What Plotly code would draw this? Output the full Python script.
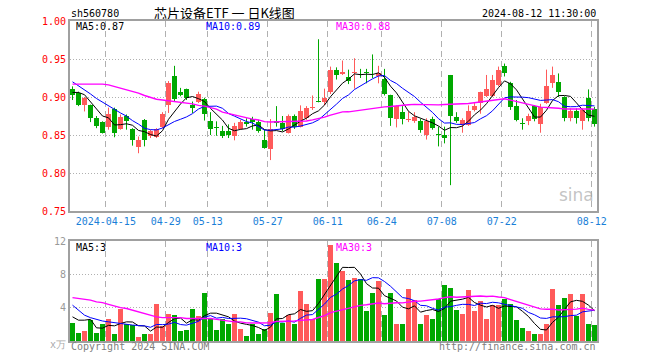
import plotly.graph_objects as go
import pandas as pd

# ---------------- data ----------------
holidays = ["2024-04-04", "2024-04-05", "2024-05-01", "2024-05-02", "2024-05-03", "2024-06-10"]
dates = [d.strftime("%Y-%m-%d") for d in pd.bdate_range("2024-04-03", "2024-08-12") if d.strftime("%Y-%m-%d") not in holidays]

opens = [0.911, 0.905, 0.889, 0.889, 0.872, 0.867, 0.861, 0.884, 0.858, 0.875,
         0.858, 0.834, 0.870, 0.849, 0.847, 0.861, 0.889, 0.927, 0.907, 0.910,
         0.889, 0.894, 0.897, 0.869, 0.860, 0.855, 0.855, 0.849, 0.858, 0.867,
         0.871, 0.867, 0.844, 0.832, 0.868, 0.866, 0.853, 0.875, 0.861, 0.872,
         0.886, 0.895, 0.893, 0.906, 0.936, 0.930, 0.926, 0.931, 0.932, 0.933,
         0.932, 0.927, 0.924, 0.903, 0.871, 0.880, 0.870, 0.869, 0.868, 0.850,
         0.871, 0.851, 0.850, 0.929, 0.874, 0.863, 0.863, 0.883, 0.892, 0.901,
         0.901, 0.916, 0.941, 0.919, 0.888, 0.866, 0.869, 0.888, 0.864, 0.892,
         0.918, 0.920, 0.900, 0.872, 0.881, 0.868, 0.899, 0.884]
highs = [0.914, 0.907, 0.900, 0.890, 0.875, 0.868, 0.886, 0.886, 0.877, 0.877,
         0.859, 0.848, 0.871, 0.857, 0.859, 0.880, 0.921, 0.941, 0.912, 0.911,
         0.894, 0.907, 0.899, 0.880, 0.868, 0.862, 0.864, 0.866, 0.870, 0.872,
         0.874, 0.870, 0.857, 0.871, 0.888, 0.875, 0.877, 0.877, 0.889, 0.888,
         0.902, 0.976, 0.911, 0.940, 0.939, 0.948, 0.936, 0.951, 0.937, 0.937,
         0.956, 0.941, 0.937, 0.903, 0.889, 0.888, 0.881, 0.880, 0.871, 0.872,
         0.874, 0.861, 0.861, 0.929, 0.880, 0.872, 0.889, 0.892, 0.907, 0.929,
         0.929, 0.940, 0.944, 0.920, 0.896, 0.872, 0.878, 0.889, 0.891, 0.936,
         0.940, 0.931, 0.901, 0.885, 0.885, 0.885, 0.910, 0.887]
lows = [0.896, 0.888, 0.881, 0.867, 0.859, 0.852, 0.857, 0.847, 0.857, 0.857,
        0.836, 0.826, 0.835, 0.846, 0.846, 0.859, 0.879, 0.894, 0.901, 0.896,
        0.879, 0.892, 0.869, 0.850, 0.849, 0.846, 0.846, 0.843, 0.857, 0.861,
        0.857, 0.853, 0.832, 0.817, 0.861, 0.855, 0.852, 0.858, 0.860, 0.870,
        0.883, 0.893, 0.889, 0.904, 0.923, 0.929, 0.917, 0.911, 0.925, 0.918,
        0.925, 0.918, 0.902, 0.862, 0.860, 0.864, 0.867, 0.866, 0.853, 0.844,
        0.857, 0.835, 0.839, 0.784, 0.866, 0.853, 0.862, 0.881, 0.878, 0.900,
        0.900, 0.914, 0.927, 0.883, 0.868, 0.857, 0.863, 0.868, 0.853, 0.891,
        0.912, 0.900, 0.868, 0.868, 0.865, 0.857, 0.868, 0.861]
closes = [0.902, 0.889, 0.899, 0.872, 0.862, 0.853, 0.877, 0.852, 0.874, 0.868,
          0.843, 0.843, 0.844, 0.855, 0.858, 0.878, 0.918, 0.897, 0.903, 0.899,
          0.886, 0.904, 0.878, 0.858, 0.859, 0.849, 0.850, 0.862, 0.867, 0.864,
          0.867, 0.855, 0.833, 0.858, 0.866, 0.858, 0.875, 0.861, 0.881, 0.886,
          0.887, 0.894, 0.899, 0.936, 0.929, 0.933, 0.921, 0.933, 0.931, 0.932,
          0.931, 0.932, 0.904, 0.872, 0.888, 0.871, 0.871, 0.874, 0.857, 0.869,
          0.859, 0.850, 0.846, 0.875, 0.868, 0.870, 0.882, 0.888, 0.906, 0.910,
          0.923, 0.935, 0.932, 0.887, 0.870, 0.865, 0.875, 0.871, 0.887, 0.915,
          0.929, 0.907, 0.872, 0.881, 0.872, 0.883, 0.873, 0.864]
volumes = [2.2, 1.0, 1.2, 2.5, 1.0, 2.0, 2.7, 0.9, 3.9, 2.0,
           1.9, 0.45, 0.8, 0.8, 4.4, 1.8, 3.3, 3.1, 1.2, 1.3,
           3.9, 3.0, 5.8, 2.7, 1.3, 2.7, 2.0, 3.3, 1.4, 0.6,
           2.0, 0.8, 1.5, 3.4, 5.6, 2.2, 3.1, 2.0, 6.0, 4.5,
           2.6, 7.4, 7.5, 11.5, 9.4, 8.4, 7.3, 7.6, 7.5, 3.6,
           5.8, 7.2, 3.1, 5.8, 2.1, 2.1, 6.2, 4.9, 2.0, 3.1,
           2.7, 5.0, 6.7, 6.4, 3.7, 3.3, 6.1, 3.6, 4.8, 2.6,
           4.3, 4.3, 5.0, 4.4, 2.5, 1.6, 1.2, 0.8, 0.9, 2.1,
           6.2, 4.3, 5.2, 5.7, 3.0, 5.6, 2.0, 1.9]

ma5_head = [0.906, 0.906, 0.903, 0.894]
ma10_head = [0.920, 0.915, 0.910, 0.904, 0.898, 0.893, 0.888, 0.884, 0.879]
ma30_head = [0.917, 0.917, 0.917, 0.917, 0.917, 0.917, 0.916, 0.914, 0.912, 0.910,
             0.907, 0.905, 0.902, 0.899, 0.897, 0.896, 0.895, 0.894, 0.893, 0.892,
             0.891, 0.889, 0.888, 0.886, 0.884, 0.880, 0.878, 0.876, 0.874]
vma5_head = [2.9, 2.5, 2.5, 2.6]
vma10_head = [4.3, 3.7, 3.1, 2.8, 2.6, 2.4, 2.3, 2.2, 2.1]
vma30_head = [5.2, 5.1, 5.0, 4.9, 4.7, 4.6, 4.4, 4.2, 4.0, 3.9,
              3.7, 3.5, 3.3, 3.1, 2.9, 2.8, 2.8, 2.8, 2.8, 2.7,
              2.7, 2.7, 2.7, 2.7, 2.6, 2.5, 2.4, 2.3, 2.3]

tick_dates = ["2024-04-15", "2024-04-29", "2024-05-13", "2024-05-27", "2024-06-11",
              "2024-06-24", "2024-07-08", "2024-07-22", "2024-08-12"]
tick_labels = ["2024-04-15", "04-29", "05-13", "05-27", "06-11", "06-24", "07-08", "07-22", "08-12"]
price_ticks = [0.75, 0.80, 0.85, 0.90, 0.95, 1.00]
vol_ticks = [4, 8, 12]

# ---------------- helpers ----------------
W, H = 660, 360
RED, GREEN = "#ff5a5a", "#00a800"
MONO = "DejaVu Sans Mono, Liberation Mono, monospace"


def moving(values, n, head):
    s = pd.Series(values).rolling(n).mean().tolist()
    return head + s[len(head):]


def px(x):
    return x / W


def py(y):
    return 1 - y / H


idx = list(range(len(dates)))
up = [c >= o for o, c in zip(opens, closes)]
colors = [RED if u else GREEN for u in up]
body_base = [min(o, c) for o, c in zip(opens, closes)]
body_h = [max(abs(c - o), 0.0012) for o, c in zip(opens, closes)]

fig = go.Figure()

# wicks
for flag, col in ((True, RED), (False, GREEN)):
    xs, ys = [], []
    for i in idx:
        if up[i] == flag:
            xs += [i, i, None]
            ys += [lows[i], highs[i], None]
    fig.add_trace(go.Scatter(x=xs, y=ys, mode="lines", line=dict(color=col, width=1),
                             hoverinfo="skip", showlegend=False, xaxis="x", yaxis="y"))

# bodies
fig.add_trace(go.Bar(x=idx, y=body_h, base=body_base, width=0.8,
                     marker=dict(color=colors, line=dict(width=0)),
                     showlegend=False, xaxis="x", yaxis="y"))

# price moving averages
for vals, col, wd in ((moving(closes, 5, ma5_head), "#000000", 1),
                      (moving(closes, 10, ma10_head), "#0000ff", 1),
                      (moving(closes, 30, ma30_head), "#ff00ff", 1.4)):
    fig.add_trace(go.Scatter(x=idx, y=vals, mode="lines", line=dict(color=col, width=wd),
                             showlegend=False, xaxis="x", yaxis="y"))

# volume
fig.add_trace(go.Bar(x=idx, y=volumes, width=0.8, marker=dict(color=colors, line=dict(width=0)),
                     showlegend=False, xaxis="x2", yaxis="y2"))
for vals, col, wd in ((moving(volumes, 5, vma5_head), "#000000", 1),
                      (moving(volumes, 10, vma10_head), "#0000ff", 1),
                      (moving(volumes, 30, vma30_head), "#ff00ff", 1.4)):
    fig.add_trace(go.Scatter(x=idx, y=vals, mode="lines", line=dict(color=col, width=wd),
                             showlegend=False, xaxis="x2", yaxis="y2"))

tickpos = [dates.index(d) - 0.45 for d in tick_dates]
xr = [-(72.5 - 70) / 6, (597 - 72.5) / 6]
frame = dict(showline=True, mirror=True, linecolor="#a0a0a0", linewidth=2, zeroline=False,
             automargin=False)

fig.update_layout(
    width=W, height=H, margin=dict(l=0, r=0, t=0, b=0, autoexpand=False),
    paper_bgcolor="white", plot_bgcolor="white", bargap=0, showlegend=False,
    hovermode=False,
    xaxis=dict(domain=[px(70), px(597)], range=xr, tickvals=tickpos, ticktext=tick_labels,
               tickfont=dict(family=MONO, size=10, color="#1a7fd8"), ticks="",
               showgrid=True, gridcolor="#b0b0b0", griddash="6px,4px", gridwidth=1,
               anchor="y", **frame),
    yaxis=dict(domain=[py(211), py(21)], range=[0.75, 1.0], tickvals=price_ticks,
               ticktext=["%.2f" % v for v in price_ticks],
               tickfont=dict(family=MONO, size=10, color="#ff0000"), ticks="",
               showgrid=True, gridcolor="#b0b0b0", griddash="1px,2px", gridwidth=1,
               anchor="x", **frame),
    xaxis2=dict(domain=[px(70), px(597)], range=xr, tickvals=tickpos, showticklabels=False,
                showgrid=True, gridcolor="#b0b0b0", griddash="6px,4px", gridwidth=1,
                anchor="y2", ticks="", **frame),
    yaxis2=dict(domain=[py(341), py(241)], range=[0, 12], tickvals=vol_ticks,
                ticktext=[str(v) for v in vol_ticks],
                tickfont=dict(family=MONO, size=10, color="#999999"), ticks="",
                showgrid=True, gridcolor="#b0b0b0", griddash="1px,2px", gridwidth=1,
                anchor="x2", **frame),
)

ann = []


def text(x, y, s, color="#000000", size=10, xanchor="left", family=MONO, height=12, **kw):
    ann.append(dict(x=px(x), y=py(y), xref="paper", yref="paper", text=s, showarrow=False,
                    xanchor=xanchor, yanchor="middle", height=height, borderpad=0,
                    font=dict(family=family, size=size, color=color), **kw))


text(70, 13, "sh560780")
text(224, 13, "芯片设备ETF 一 日K线图", size=13, xanchor="center",
     family="Noto Sans CJK SC, sans-serif", height=13)
text(597, 13, "2024-08-12 11:30:00", xanchor="right")

ma5_last = moving(closes, 5, ma5_head)[-1]
ma10_last = moving(closes, 10, ma10_head)[-1]
ma30_last = moving(closes, 30, ma30_head)[-1]
text(75, 26, "MA5:%.2f" % ma5_last, height=10)
text(205, 26, "MA10:%.2f" % ma10_last, color="#0000ff", height=10)
text(335, 26, "MA30:%.2f" % ma30_last, color="#ff00ff", height=10)

text(75, 247, "MA5:%d" % int(moving(volumes, 5, vma5_head)[-1]))
text(205, 247, "MA10:%d" % int(moving(volumes, 10, vma10_head)[-1]), color="#0000ff")
text(335, 247, "MA30:%d" % int(moving(volumes, 30, vma30_head)[-1]), color="#ff00ff")

text(49, 344, "x万", color="#aaaaaa", size=10)
text(70, 346, "Copyright 2024 SINA.COM", color="#808080")
text(597, 346, "http://finance.sina.com.cn", color="#808080", xanchor="right")
text(595, 195, "sina", color="rgba(170,170,170,0.7)", size=17, xanchor="right",
     family="DejaVu Sans, sans-serif", height=18)

fig.update_layout(annotations=ann)
fig.write_html("out.html", config={"displayModeBar": False, "staticPlot": True},
               post_script="document.body.style.margin='0';")
